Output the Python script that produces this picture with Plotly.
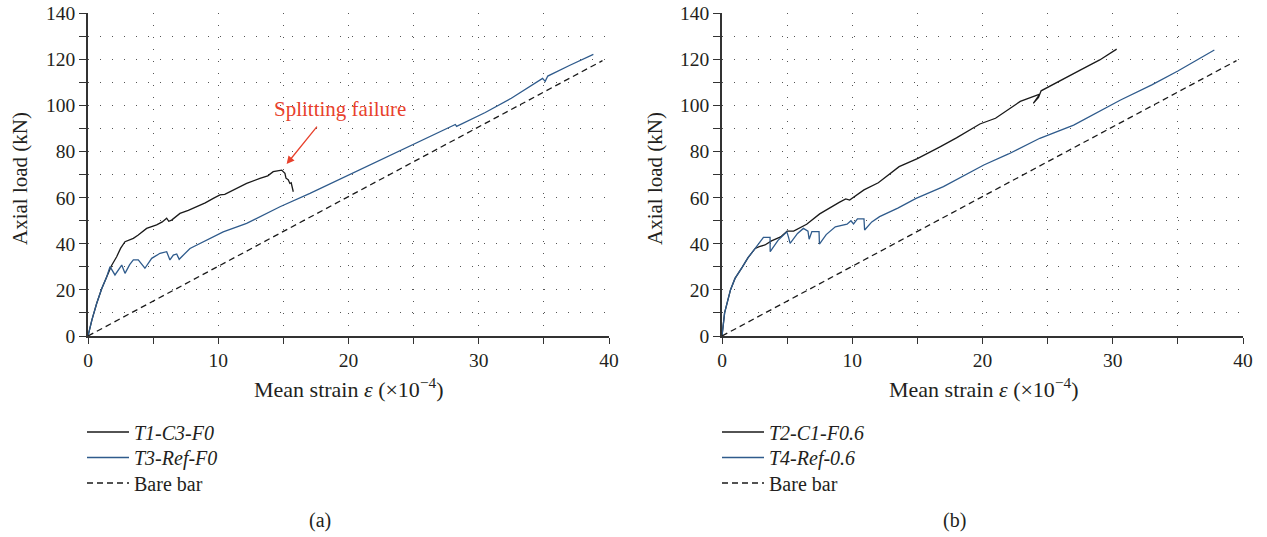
import plotly.graph_objects as go

# ---------------- data ----------------
# Panel (a)
a_t1_x = [0, 0.3, 0.67, 1.05, 1.44, 1.8, 2.2, 2.5, 2.84, 3.2, 3.48, 3.86, 4.2, 4.5, 5.27, 5.7, 6.04, 6.2,
          6.42, 7.06, 7.7, 8.34, 9.0, 9.62, 10.13, 10.5, 10.9, 11.5, 12.18, 13.2, 13.8, 14.22, 14.6, 14.87,
          15.12, 15.2, 15.37, 15.5, 15.6, 15.76]
a_t1_y = [0, 7, 14.2, 20.5, 25.7, 30.5, 34.4, 38, 40.9, 41.8, 42.4, 43.8, 45.5, 46.7, 48.2, 49.5, 51.1, 49.8,
          50.3, 53.2, 54.5, 56.1, 57.8, 59.7, 61.2, 61.5, 62.6, 64.5, 66.2, 68.4, 69.5, 71.3, 71.8, 72.0,
          70.6, 68.5, 67.8, 66.2, 66.5, 62.6]

a_t3_x = [0, 0.3, 0.67, 1.05, 1.44, 1.69, 2.07, 2.59, 2.84, 3.2, 3.48, 3.86, 4.37, 4.89, 5.53, 6.04, 6.29,
          6.55, 6.81, 7.0, 7.83, 9.11, 10.38, 12.18, 14.74, 17.04, 20.0, 22.5, 25.0, 27.0, 28.2, 28.3,
          30.5, 32.5, 34.9, 35.1, 35.3, 37.0, 38.8]
a_t3_y = [0, 7, 14.2, 20.5, 25.7, 30.1, 26.5, 30.8, 27.2, 31.0, 33.0, 33.0, 29.4, 33.7, 35.9, 36.6, 33.0,
          35.1, 35.6, 33.3, 38.0, 41.6, 45.2, 48.9, 56.1, 61.9, 69.8, 76.4, 83.2, 88.6, 91.8, 91.0,
          97.0, 103.2, 111.8, 110.5, 112.8, 117.5, 122.2]

# Panel (b)
b_t2_x = [0, 0.2, 0.65, 1.0, 1.57, 2.0, 2.55, 2.86, 3.3, 3.8, 4.5, 5.0, 5.5, 6.0, 6.5, 7.5, 8.2, 9.0, 9.5,
          9.8, 10.9, 12.0, 13.6, 15.0, 16.7, 18.0, 19.8, 21.0, 22.9, 23.7, 24.4, 23.9, 24.3, 24.5,
          25.5, 27.5, 29.0, 30.3]
b_t2_y = [0, 10, 20, 25, 30, 34, 38, 38.8, 39.5, 41.3, 43, 45.5, 45.5, 47, 48.5, 53, 55.5, 58, 59.5,
          59, 63.4, 66.5, 73.5, 77, 82, 86, 92, 94.5, 101.8, 103.5, 105, 101, 103.5, 106.4,
          109.5, 115.4, 119.8, 124.5]

b_t4_x = [0, 0.2, 0.65, 1.0, 1.57, 2.0, 2.55, 2.86, 3.18, 3.69, 3.7, 4.3, 4.98, 5.1, 5.23, 5.8, 6.25, 6.6,
          6.69, 6.9, 7.45, 7.48, 8.0, 8.7, 9.6, 9.9, 10.1, 10.4, 10.9, 10.95, 11.5, 12.1, 13.5, 14.9,
          17.0, 20.1, 22.0, 24.4, 27.0, 30.6, 33.0, 35.0, 37.8]
b_t4_y = [0, 10, 20, 25, 30, 34, 38, 40.5, 42.8, 42.8, 36.6, 41.5, 45.2, 43.0, 40.2, 44.5, 46.7, 45.5,
          42.0, 45.3, 45.3, 39.9, 44.0, 47.4, 48.5, 50.0, 48.6, 50.8, 50.8, 46.0, 49.5, 51.8, 55.5, 59.7,
          64.8, 74.2, 79.0, 85.8, 91.5, 102.4, 109.0, 115.0, 124.1]

bare_x = [0, 39.5]
bare_y = [0, 119.5]

x_ticks = [0, 10, 20, 30, 40]
y_ticks = [0, 20, 40, 60, 80, 100, 120, 140]

names_a = ["<i>T1-C3-F0</i>", "<i>T3-Ref-F0</i>", "Bare bar"]
names_b = ["<i>T2-C1-F0.6</i>", "<i>T4-Ref-0.6</i>", "Bare bar"]

# ---------------- styling ----------------
W, H = 1267, 537
FONT = "Liberation Serif, Times New Roman, serif"
TXT = "#231f20"
BLACK = "#1a1a1a"
BLUE = "#2f5b8c"
GRIDC = "#555555"
AXC = "#333333"


def px_x(p):
    return p / W


def px_y(p):
    return 1 - p / H


fig = go.Figure()

LEG_ROWS = [432, 457.5, 483]


def add_panel(xa, ya, leg_names, xs1, ys1, xs2, ys2, names):
    specs = [(xs1, ys1, dict(color=BLACK, width=1.3)),
             (xs2, ys2, dict(color=BLUE, width=1.3)),
             (bare_x, bare_y, dict(color=BLACK, width=1.3, dash="6px,4px"))]
    for (xs, ys, line), nm, lg in zip(specs, names, leg_names):
        fig.add_trace(go.Scatter(x=xs, y=ys, mode="lines", name=nm, line=line,
                                 xaxis=xa, yaxis=ya, legend=lg))


add_panel("x", "y", ["legend", "legend2", "legend3"],
          a_t1_x, a_t1_y, a_t3_x, a_t3_y, names_a)
add_panel("x2", "y2", ["legend4", "legend5", "legend6"],
          b_t2_x, b_t2_y, b_t4_x, b_t4_y, names_b)

y_dom = [px_y(336), px_y(13.4)]

common_x = dict(range=[0, 40], tickvals=x_ticks, ticks="outside", ticklen=6, tickwidth=1.2,
                tickcolor=AXC, showline=True, linecolor=AXC, linewidth=1.5, zeroline=False,
                showgrid=True, gridcolor=GRIDC, gridwidth=1.2, griddash="1px,11px", automargin=False,
                ticklabeloverflow="allow",
                minor=dict(dtick=5, tick0=0, ticks="outside", ticklen=6, tickwidth=1.2, tickcolor=AXC,
                           showgrid=True, gridcolor=GRIDC, gridwidth=1.2, griddash="1px,11px"),
                tickfont=dict(family=FONT, size=19.5, color=TXT), fixedrange=True)
common_y = dict(range=[0, 140], tickvals=y_ticks, ticks="outside", ticklen=7, tickwidth=1.2,
                tickcolor=AXC, showline=True, linecolor=AXC, linewidth=1.5, zeroline=False,
                showgrid=True, gridcolor=GRIDC, gridwidth=1.2, griddash="1px,11px", automargin=False,
                ticklabeloverflow="allow",
                minor=dict(dtick=10, tick0=0, ticks="outside", ticklen=7, tickwidth=1.2, tickcolor=AXC,
                           showgrid=True, gridcolor=GRIDC, gridwidth=1.2, griddash="1px,11px"),
                tickfont=dict(family=FONT, size=19.5, color=TXT), fixedrange=True)

leg_common = dict(xanchor="left", yanchor="middle", bgcolor="rgba(0,0,0,0)",
                  font=dict(family=FONT, size=20, color=TXT), itemwidth=42, tracegroupgap=0)

layout = dict(
    width=W, height=H,
    margin=dict(l=0, r=0, t=0, b=0, autoexpand=False),
    paper_bgcolor="white", plot_bgcolor="white",
    font=dict(family=FONT, size=19, color=TXT),
    xaxis=dict(domain=[px_x(88), px_x(609)], anchor="y", **common_x),
    yaxis=dict(domain=y_dom, anchor="x", **common_y),
    xaxis2=dict(domain=[px_x(722), px_x(1243)], anchor="y2", **common_x),
    yaxis2=dict(domain=y_dom, anchor="x2", **common_y),
    showlegend=True,
)
for i, (lx, ry) in enumerate([(82, r) for r in LEG_ROWS] + [(717, r) for r in LEG_ROWS]):
    key = "legend" if i == 0 else f"legend{i + 1}"
    layout[key] = dict(x=px_x(lx), y=px_y(ry), **leg_common)
fig.update_layout(**layout)

ann = []
# axis titles
for cx in (20, 655):
    ann.append(dict(text="Axial load (kN)", x=px_x(cx), y=px_y(179), xref="paper", yref="paper",
                    textangle=-90, showarrow=False, xanchor="center", yanchor="middle",
                    font=dict(family=FONT, size=21, color=TXT)))
for cx in (349, 984):
    ann.append(dict(text="Mean strain <i>ε</i> (×10<sup>−4</sup>)", x=px_x(cx), y=px_y(388),
                    xref="paper", yref="paper", showarrow=False, xanchor="center", yanchor="middle",
                    font=dict(family=FONT, size=22, color=TXT)))
for cx, lab in ((320, "(a)"), (955, "(b)")):
    ann.append(dict(text=lab, x=px_x(cx), y=px_y(520), xref="paper", yref="paper", showarrow=False,
                    xanchor="center", yanchor="middle",
                    font=dict(family=FONT, size=20, color=TXT)))
# splitting failure annotation
RED = "#e8412c"
ann.append(dict(text="Splitting failure", x=19.34, y=98.5, xref="x", yref="y", showarrow=False,
                xanchor="center", yanchor="middle", font=dict(family=FONT, size=21, color=RED)))
ann.append(dict(text="", x=15.25, y=74.6, xref="x", yref="y", ax=17.67, ay=91.5, axref="x", ayref="y",
                showarrow=True, arrowhead=2, arrowsize=1.2, arrowwidth=1.3, arrowcolor=RED))
fig.update_layout(annotations=ann)

# remove the default page margin so the figure fills the window exactly
fig.write_html("out.html", config={"displayModeBar": False},
               post_script="document.body.style.margin='0';document.body.style.overflow='hidden';")
